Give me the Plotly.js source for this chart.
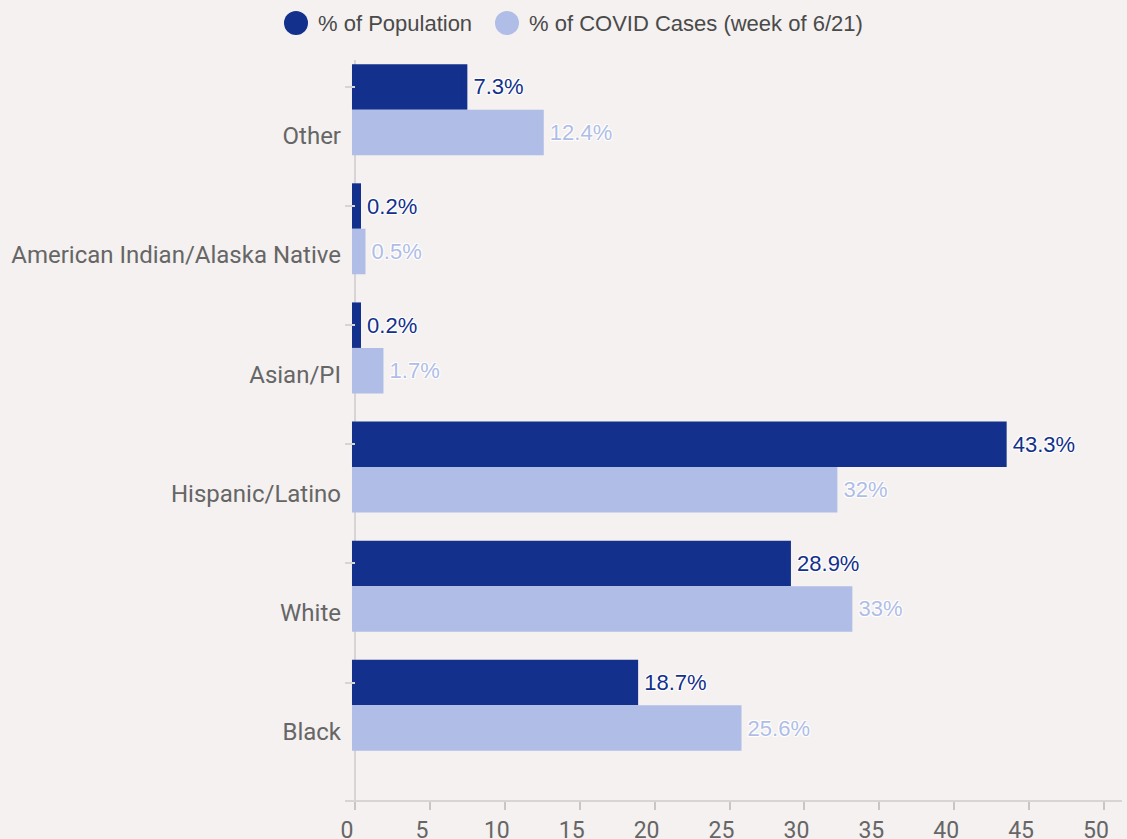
<!DOCTYPE html>
<html>
<head>
<meta charset="utf-8">
<script src="https://cdn.plot.ly/plotly-3.0.1.min.js"></script>
<style>
html,body{margin:0;padding:0;background:#f4f1f0;}
#chart{width:1127px;height:839px;}
</style>
</head>
<body>
<div id="chart"></div>
<script>
var categories = ["Black", "White", "Hispanic/Latino", "Asian/PI", "American Indian/Alaska Native", "Other"];
var populationPct = [18.7, 28.9, 43.3, 0.2, 0.2, 7.3];
var casesPct = [25.6, 33, 32, 1.7, 0.5, 12.4];
var seriesNames = ["% of Population", "% of COVID Cases (week of 6/21)"];
var xTickVals = [0, 5, 10, 15, 20, 25, 30, 35, 40, 45, 50];

var darkBlue = "#13308c";
var lightBlue = "#b0bde6";
var outline = "1px 1px 1px #fff, -1px -1px 1px #fff, 1px -1px 1px #fff, -1px 1px 1px #fff";

var core = 0.3314;
function labelText(v) { return "\u00a0" + v + "%"; }
var traces = [
  {
    type: "bar", orientation: "h", name: seriesNames[0],
    y: categories, x: populationPct,
    width: core, offset: -core / 2,
    marker: {color: darkBlue, line: {color: darkBlue, width: 6}},
    text: populationPct.map(labelText),
    textposition: "outside", cliponaxis: false, constraintext: "none",
    textfont: {family: "Liberation Sans, Arial, sans-serif", size: 22, color: darkBlue, shadow: outline},
    hoverinfo: "skip", showlegend: false
  },
  {
    type: "bar", orientation: "h", name: seriesNames[1],
    y: categories, x: casesPct,
    width: core, offset: -0.5474,
    marker: {color: lightBlue, line: {color: lightBlue, width: 6}},
    text: casesPct.map(labelText),
    textposition: "outside", cliponaxis: false, constraintext: "none",
    textfont: {family: "Liberation Sans, Arial, sans-serif", size: 22, color: lightBlue, shadow: outline},
    hoverinfo: "skip", showlegend: false
  }
];

function legendShape(cx, color) {
  return {type: "circle", xref: "paper", yref: "paper", xsizemode: "pixel", ysizemode: "pixel",
    xanchor: (cx - 345) / 777, yanchor: (800.5 - 23) / 740.5,
    x0: -12, x1: 12, y0: -12, y1: 12, fillcolor: color, line: {width: 0}};
}
function legendText(px, txt) {
  return {xref: "paper", yref: "paper", x: (px - 345) / 777, y: (800.5 - 23) / 740.5,
    xanchor: "left", yanchor: "middle", showarrow: false, text: txt,
    font: {family: "Liberation Sans, Arial, sans-serif", size: 22, color: "#4a4a4a"}};
}

var layout = {
  width: 1127, height: 839,
  paper_bgcolor: "#f4f1f0", plot_bgcolor: "#f4f1f0",
  margin: {l: 345, r: 5, t: 60, b: 38.5, pad: 0},
  barmode: "overlay",
  showlegend: false,
  xaxis: {
    range: [-0.667, 51.2], tickvals: xTickVals, showgrid: false,
    zeroline: true, zerolinecolor: "#d8d4d3", zerolinewidth: 2,
    showline: true, linecolor: "#d8d4d3", linewidth: 2,
    ticks: "outside", ticklen: 8, tickcolor: "#c9c5c4", tickwidth: 2,
    ticklabelshift: -8,
    tickfont: {family: "Roboto, sans-serif", size: 23, color: "#666666"},
    fixedrange: true
  },
  yaxis: {
    type: "category", categoryorder: "array", categoryarray: categories,
    range: [-0.986, 5.226], showgrid: false, zeroline: false, showline: false,
    ticks: "inside", ticklen: 10, tickcolor: "#d8d4d3", tickwidth: 2,
    ticklabelshift: 49, ticklabelstandoff: 3,
    tickfont: {family: "Roboto, sans-serif", size: 24, color: "#666666"},
    fixedrange: true
  },
  shapes: [legendShape(296, darkBlue), legendShape(507, lightBlue)],
  annotations: [legendText(316, seriesNames[0]), legendText(527, seriesNames[1])]
};

Plotly.newPlot("chart", traces, layout, {displayModeBar: false, staticPlot: true});
</script>
</body>
</html>
